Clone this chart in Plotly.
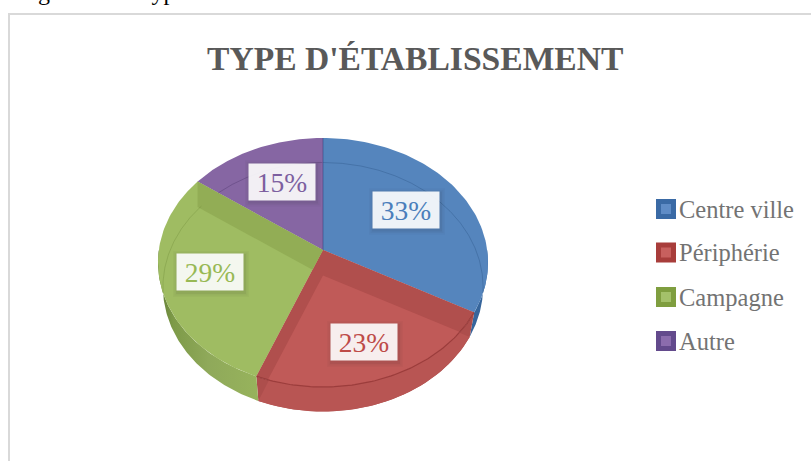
import numpy as np
import plotly.graph_objects as go

# ---- data ----
categories = ["Centre ville", "Périphérie", "Campagne", "Autre"]
values = [33, 23, 29, 15]
title_text = "TYPE D'ÉTABLISSEMENT"
caption_text = "Figure n°4 : Type d'établissement"

# ---- styles ----
top_col = ["#5585bd", "#c05a58", "#9fbc62", "#8666a3"]
band_col = ["#5585bd", "#b04f4d", "#92ad55", "#8666a3"]
side_col = ["#36659c", "#ad4e4c", "#8aa550", "#5f4680"]
floor_col = ["#3f6ea6", "#b85553", "#93ae58", "#6a4f8c"]
line_col = ["rgba(40,80,130,.35)", "rgba(130,40,40,.55)", "rgba(90,120,40,.25)", "rgba(70,45,100,.35)"]
key_fill = ["#5f8cc6", "#c8605e", "#a4c16a", "#8b6cad"]
key_edge = ["#3a6aa5", "#a83d3b", "#7f9e3f", "#634a8c"]
text_col = ["#4a7ebb", "#be4b48", "#98b954", "#7d5fa0"]
FONT = "Liberation Serif"

# ---- projection of the tilted disc onto the page (pixel axes) ----
CX, APEX_Y, S, B, K = 323.0, 250.0, 164.2, -98.14, 0.1004
DEPTH = 24.5
LOWER_SCALE = 0.97  # the lower disc is further away, so it reads a little narrower


def project(deg, r=1.0):
    a = np.radians(deg)
    u, v = r * np.sin(a), r * np.cos(a)
    d = 1 + K * v
    return CX + S * u / d, (APEX_Y + B * v) / d


def arc(a0, a1, n=90):
    return project(np.linspace(a0, a1, n))


def lower(x):
    return CX + (x - CX) * LOWER_SCALE


def clip_convex(subject, clip):
    """Sutherland-Hodgman: keep the part of `subject` inside convex `clip`."""
    def area2(p):
        return sum(p[i][0] * p[(i + 1) % len(p)][1] - p[(i + 1) % len(p)][0] * p[i][1] for i in range(len(p)))
    sign = 1 if area2(clip) > 0 else -1
    out = list(subject)
    for i in range(len(clip)):
        a, b = clip[i], clip[(i + 1) % len(clip)]
        side = lambda p: sign * ((b[0] - a[0]) * (p[1] - a[1]) - (b[1] - a[1]) * (p[0] - a[0]))
        inp, out = out, []
        for j in range(len(inp)):
            p, q = inp[j], inp[(j + 1) % len(inp)]
            sp, sq = side(p), side(q)
            if sp >= 0:
                out.append(p)
            if sp * sq < 0:
                t = sp / (sp - sq)
                out.append((p[0] + t * (q[0] - p[0]), p[1] + t * (q[1] - p[1])))
        if not out:
            return []
    return out


fig = go.Figure()


def poly(x, y, color, width=0, lcol=None, **kw):
    fig.add_trace(go.Scatter(x=list(x), y=list(y), mode="lines", fill="toself", fillcolor=color,
                             line=dict(width=width, color=lcol or color), hoverinfo="skip",
                             showlegend=False, **kw))


edges = np.concatenate([[0], np.cumsum(values)]) / sum(values) * 360
wedges = list(zip(edges[:-1], edges[1:]))

# side walls
for i, (a0, a1) in enumerate(wedges):
    lo, hi = max(a0, 90), min(a1, 270)
    if hi <= lo:
        continue
    x, y = arc(lo, hi)
    px = np.concatenate([x, lower(x)[::-1]])
    py = np.concatenate([y, y[::-1] + DEPTH])
    if i == 2:
        fig.add_trace(go.Scatter(
            x=list(px), y=list(py), mode="lines", fill="toself", line=dict(width=0), hoverinfo="skip",
            showlegend=False, fillcolor=side_col[i],
            fillgradient=dict(type="horizontal", colorscale=[[0, "#5f7a33"], [0.15, "#7d9a48"], [0.5, "#8fa95a"], [1, "#97b35c"]])))
    else:
        poly(px, py, side_col[i])

# floor of the red wedge seen through the glass, below the rim
x, y = arc(*wedges[1])
poly(lower(np.r_[CX, x]), np.r_[APEX_Y, y] + DEPTH, floor_col[1])

# top faces
for i, (a0, a1) in enumerate(wedges):
    x, y = arc(a0, a1)
    poly(np.r_[CX, x], np.r_[APEX_Y, y], top_col[i])

# darker bands where a wedge's inner wall shows through, and the inner arc
for i, (a0, a1) in enumerate(wedges):
    x, y = arc(a0, a1)
    top = list(zip(np.r_[CX, x].tolist(), np.r_[APEX_Y, y].tolist()))
    for ang in (a0, a1):
        ex, ey = project(ang)
        band = [(CX, APEX_Y), (float(ex), float(ey)), (float(ex), float(ey) + DEPTH + 1), (CX, APEX_Y + DEPTH + 1)]
        part = clip_convex(band, top)
        if len(part) > 2 and band_col[i] != top_col[i]:
            poly([p[0] for p in part], [p[1] for p in part], band_col[i])
    # inner arc = the wedge's arc moved down by the depth, where it stays on the wedge
    ax, ay = arc(a0, a1, 200)
    ay = ay + DEPTH
    ax = lower(ax)
    keep = [len(clip_convex([(float(px), float(py)), (float(px) + .01, float(py)), (float(px), float(py) + .01)], top)) == 3
            for px, py in zip(ax, ay)]
    ax = np.where(keep, ax, np.nan)
    ay = np.where(keep, ay, np.nan)
    fig.add_trace(go.Scatter(x=list(ax), y=list(ay), mode="lines", line=dict(width=1, color=line_col[i]),
                             hoverinfo="skip", showlegend=False, connectgaps=False))

# dark rim along the front of the red wedge
x, y = arc(*wedges[1])
fig.add_trace(go.Scatter(x=list(x), y=list(y), mode="lines", line=dict(width=1.2, color=line_col[1]),
                         hoverinfo="skip", showlegend=False))

# thin seam on the vertical edge
sx, sy = project(0.0)
fig.add_trace(go.Scatter(x=[CX, float(sx)], y=[APEX_Y, float(sy)], mode="lines",
                         line=dict(width=1, color="rgba(50,60,120,.5)"), hoverinfo="skip", showlegend=False))

# key
key_y = [209, 252.5, 297, 341]
for c, y, f, e in zip(categories, key_y, key_fill, key_edge):
    fig.add_trace(go.Scatter(x=[666], y=[y], mode="markers", showlegend=False, hoverinfo="skip",
                             marker=dict(symbol="square", size=15, color=f, line=dict(width=5, color=e))))
annotations = [dict(x=677, y=y, text=c, xanchor="left", yanchor="middle", showarrow=False,
                    font=dict(family=FONT, size=24.5, color="#737373"))
               for c, y in zip(categories, key_y)]

# data labels
label_xy = [(406, 209.5), (364, 342), (210, 272), (282, 181.5)]
shapes = []
for (x, y), v, c in zip(label_xy, values, text_col):
    for grow, alpha in ((5, .03), (3.5, .04), (2, .06)):
        shapes.append(dict(type="rect", x0=x - 33 - grow + 1, x1=x + 33 + grow + 1, y0=y - 18 - grow + 2, y1=y + 18 + grow + 2,
                           fillcolor=f"rgba(40,40,40,{alpha})", line=dict(width=0), layer="above"))
    annotations.append(dict(x=x, y=y, text=f"{v}%", showarrow=False, width=66, height=36, align="center",
                            xanchor="center", yanchor="middle", bgcolor="rgba(255,255,255,.9)", borderpad=0,
                            font=dict(family=FONT, size=27.5, color=c)))

# frame
shapes.append(dict(type="line", x0=9, x1=9, y0=14, y1=461, line=dict(color="#d9d9d9", width=2), layer="below"))
shapes.append(dict(type="line", x0=8, x1=811, y0=14, y1=14, line=dict(color="#d9d9d9", width=2), layer="below"))

annotations.append(dict(x=415, y=58, text=f"<b>{title_text}</b>", showarrow=False, xanchor="center", yanchor="middle",
                        font=dict(family=FONT, size=33.6, color="#595959")))
annotations.append(dict(x=16, y=7, text=caption_text, showarrow=False, xanchor="left", yanchor="bottom",
                        font=dict(family=FONT, size=24, color="#000000")))

fig.update_layout(
    width=811, height=461, margin=dict(l=0, r=0, t=0, b=0), paper_bgcolor="white", plot_bgcolor="white",
    xaxis=dict(range=[0, 811], visible=False, fixedrange=True),
    yaxis=dict(range=[461, 0], visible=False, fixedrange=True),
    showlegend=False, shapes=shapes, annotations=annotations,
)
fig.write_html("out.html", config={"displayModeBar": False},
               post_script="document.body.style.margin='0';document.body.style.overflow='hidden';")
